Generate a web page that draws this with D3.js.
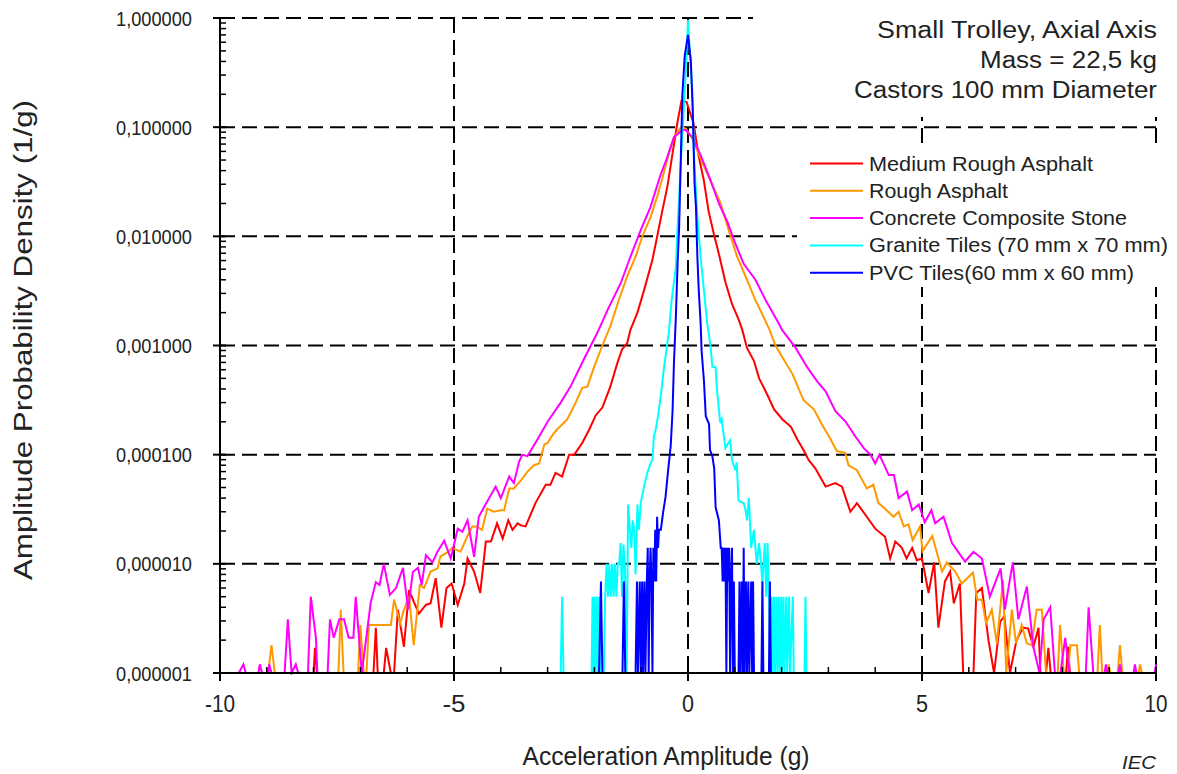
<!DOCTYPE html>
<html><head><meta charset="utf-8">
<script src="https://cdn.jsdelivr.net/npm/d3@7"></script>
<style>body{margin:0;background:#fff}svg{display:block}</style>
</head><body>
<svg id="c" width="1177" height="774"></svg>
<script>
// ---------------- DATA ----------------
const xTickValues = [-10, -5, 0, 5, 10];
const xTickLabels = ["-10", "-5", "0", "5", "10"];
const yTickValues = [1e-6, 1e-5, 1e-4, 1e-3, 1e-2, 1e-1, 1];
const yTickLabels = ["0,000001", "0,000010", "0,000100", "0,001000", "0,010000", "0,100000", "1,000000"];
const seriesNames = ["Medium Rough  Asphalt", "Rough Asphalt", "Concrete Composite Stone", "Granite Tiles (70 mm x 70 mm)", "PVC Tiles(60 mm x 60 mm)"];
const seriesColors = ["#FF0000", "#FF9900", "#FF00FF", "#00FFFF", "#0000FF"];
const titleLines = ["Small Trolley, Axial Axis", "Mass = 22,5 kg", "Castors 100 mm Diameter"];

// [acceleration (g), density (1/g)]  (0 = empty bin)
const mediumRoughAsphalt = [[-8.2,0],[-8.0,0],[-7.97,1.7e-6],[-7.93,0],[-6.72,0],[-6.67,2.6e-6],[-6.63,0],[-6.5,0],[-6.45,1.7e-6],[-6.35,0],
[-6.28,0],[-6.2,3.8e-6],[-6.07,1.74e-6],[-5.96,5.75e-6],[-5.86,4.5e-6],[-5.75,3.5e-6],[-5.6,4.2e-6],[-5.5,4.35e-6],[-5.39,7.4e-6],[-5.27,2.6e-6],
[-5.16,6.0e-6],[-5.05,6.6e-6],[-4.92,4.2e-6],[-4.78,6.6e-6],[-4.71,1.12e-5],[-4.57,8.5e-6],[-4.44,5.4e-6],[-4.32,1.6e-5],[-4.21,1.6e-5],[-4.08,2.35e-5],
[-3.96,1.7e-5],[-3.84,2.5e-5],[-3.75,2.05e-5],[-3.64,2.35e-5],[-3.57,2.25e-5],[-3.47,2.2e-5],[-3.26,3.6e-5],[-3.04,5.3e-5],[-2.94,5.3e-5],[-2.83,6.8e-5],
[-2.69,6.3e-5],[-2.54,1.0e-4],[-2.43,1.0e-4],[-2.26,1.28e-4],[-2.11,1.7e-4],[-1.97,2.3e-4],[-1.83,2.7e-4],[-1.66,4.2e-4],[-1.51,6.9e-4],[-1.41,9.2e-4],
[-1.3,1.05e-3],[-1.23,1.39e-3],[-1.08,2.0e-3],[-0.94,3.2e-3],[-0.76,6.1e-3],[-0.66,9.9e-3],[-0.55,0.017],[-0.44,0.0287],[-0.34,0.054],[-0.23,0.108],
[-0.14,0.174],[-0.03,0.17],[0.12,0.108],[0.23,0.054],[0.34,0.0323],[0.44,0.017],[0.55,0.0106],[0.66,0.0069],[0.8,0.0038],[0.94,0.0024],
[1.09,0.0017],[1.16,1.39e-3],[1.26,9.5e-4],[1.41,7.2e-4],[1.52,5.0e-4],[1.7,3.5e-4],[1.84,2.6e-4],[2.02,2.1e-4],[2.2,1.8e-4],[2.34,1.37e-4],
[2.48,1.08e-4],[2.58,8.9e-5],[2.72,7.5e-5],[2.94,5.1e-5],[3.15,5.5e-5],[3.29,5.1e-5],[3.47,3.0e-5],[3.61,3.6e-5],[3.82,2.7e-5],[4.0,2.1e-5],
[4.21,1.77e-5],[4.32,1.12e-5],[4.43,1.6e-5],[4.57,1.4e-5],[4.67,1.12e-5],[4.79,1.4e-5],[4.89,1.08e-5],[5.0,1.12e-5],[5.14,5.4e-6],[5.26,1.03e-5],
[5.35,2.6e-6],[5.49,6.9e-6],[5.6,8.5e-6],[5.68,4.35e-6],[5.81,6.6e-6],[5.88,0],[6.1,0],[6.16,5.4e-6],[6.28,6.0e-6],[6.42,2.0e-6],
[6.54,0],[6.67,2.95e-6],[6.76,3.3e-6],[6.88,0],[7.02,2.0e-6],[7.16,2.6e-6],[7.27,2.55e-6],[7.38,1.74e-6],[7.49,2.6e-6],[7.53,0],
[7.65,0],[7.7,1.7e-6],[7.75,0],[8.08,0],[8.12,1.74e-6],[8.16,0]];

const roughAsphalt = [[-8.97,0],[-8.9,1.8e-6],[-8.83,0],[-7.47,0],[-7.42,3.8e-6],[-7.36,0],[-7.05,0],[-7.0,2.75e-6],[-6.93,0],[-6.87,0],
[-6.82,2.75e-6],[-6.35,2.75e-6],[-6.28,4.7e-6],[-6.15,2.85e-6],[-6.07,3.8e-6],[-5.96,5.0e-6],[-5.86,1.8e-6],[-5.73,6.4e-6],[-5.64,6.0e-6],[-5.5,8.5e-6],
[-5.35,9.1e-6],[-5.29,1.17e-5],[-5.11,1.3e-5],[-5.04,1.4e-5],[-4.86,1.29e-5],[-4.72,1.77e-5],[-4.61,2.2e-5],[-4.51,2.2e-5],[-4.4,2.05e-5],[-4.29,3.2e-5],
[-4.15,3.0e-5],[-4.0,3.1e-5],[-3.93,3.1e-5],[-3.82,4.9e-5],[-3.72,4.9e-5],[-3.57,5.8e-5],[-3.43,7.0e-5],[-3.29,8.0e-5],[-3.18,8.3e-5],[-3.07,1.24e-4],
[-3.0,1.28e-4],[-2.9,1.5e-4],[-2.8,1.7e-4],[-2.58,2.1e-4],[-2.4,3.0e-4],[-2.26,4.1e-4],[-2.15,4.2e-4],[-2.01,6.3e-4],[-1.83,1.0e-3],[-1.66,1.5e-3],
[-1.48,2.6e-3],[-1.3,4.3e-3],[-1.12,6.5e-3],[-0.98,9.9e-3],[-0.8,0.015],[-0.66,0.023],[-0.52,0.0377],[-0.41,0.057],[-0.3,0.081],[-0.15,0.1],
[-0.05,0.097],[0.09,0.079],[0.3,0.048],[0.48,0.0323],[0.69,0.0205],[0.87,0.0114],[1.05,0.0065],[1.23,0.0043],[1.44,0.0026],[1.65,0.0017],
[1.74,1.4e-3],[1.87,1.0e-3],[2.01,7.9e-4],[2.23,5.5e-4],[2.47,3.15e-4],[2.69,2.6e-4],[2.86,1.9e-4],[3.04,1.4e-4],[3.18,1.08e-4],[3.36,1.04e-4],
[3.43,8.0e-5],[3.61,7.2e-5],[3.82,4.9e-5],[3.96,5.3e-5],[4.07,3.6e-5],[4.21,3.2e-5],[4.39,2.7e-5],[4.5,3.0e-5],[4.61,2.2e-5],[4.71,2.3e-5],
[4.8,1.65e-5],[4.96,2.2e-5],[5.01,1.3e-5],[5.22,1.8e-5],[5.43,8.5e-6],[5.53,1.03e-5],[5.71,8.5e-6],[5.85,6.6e-6],[6.09,8.3e-6],[6.18,4.7e-6],
[6.28,4.7e-6],[6.37,2.85e-6],[6.49,3.8e-6],[6.6,1.87e-6],[6.73,7.1e-6],[6.8,0],[6.92,3.8e-6],[7.01,1.87e-6],[7.13,2.75e-6],[7.24,1.87e-6],
[7.34,1.8e-6],[7.45,3.8e-6],[7.56,3.8e-6],[7.65,0],[7.9,0],[7.95,2.75e-6],[8.03,0],[8.12,0],[8.17,1.8e-6],[8.31,1.8e-6],
[8.36,0],[8.75,0],[8.8,2.75e-6],[8.85,0],[8.96,0],[8.99,1.2e-6],[9.02,0],[9.18,0],[9.23,1.8e-6],[9.28,0],
[9.63,0],[9.66,1.2e-6],[9.7,0]];

const concreteCompositeStone = [[-9.6,0],[-9.5,1.2e-6],[-9.45,0],[-9.18,0],[-9.15,1.2e-6],[-9.1,0],[-8.97,0],[-8.95,1.2e-6],[-8.9,0],[-8.62,0],
[-8.55,3.1e-6],[-8.47,0],[-8.38,1.2e-6],[-8.33,0],[-8.12,0],[-8.06,5.0e-6],[-7.95,2.1e-6],[-7.92,0],[-7.7,0],[-7.65,3.1e-6],
[-7.57,2.1e-6],[-7.45,3.1e-6],[-7.35,3.1e-6],[-7.25,2.1e-6],[-7.15,2.1e-6],[-7.1,5.0e-6],[-6.97,0],[-6.78,4.4e-6],[-6.67,6.8e-6],[-6.59,6.4e-6],
[-6.5,1.0e-5],[-6.37,5.2e-6],[-6.24,6.0e-6],[-6.09,9.2e-6],[-5.98,3.8e-6],[-5.88,8.4e-6],[-5.77,9.2e-6],[-5.69,6.4e-6],[-5.6,1.2e-5],[-5.46,1.03e-5],
[-5.35,1.3e-5],[-5.21,1.63e-5],[-5.07,1.12e-5],[-4.92,2.1e-5],[-4.82,1.97e-5],[-4.71,2.5e-5],[-4.57,1.16e-5],[-4.47,2.7e-5],[-4.36,3.3e-5],[-4.11,5.1e-5],
[-4.0,4.0e-5],[-3.82,6.3e-5],[-3.72,5.5e-5],[-3.61,8.6e-5],[-3.54,1.0e-4],[-3.43,9.7e-5],[-3.22,1.37e-4],[-3.0,2.0e-4],[-2.72,3.0e-4],[-2.51,4.2e-4],
[-2.23,7.4e-4],[-1.94,1.3e-3],[-1.69,2.25e-3],[-1.44,3.7e-3],[-1.23,6.5e-3],[-1.01,0.0114],[-0.8,0.0186],[-0.59,0.0363],[-0.44,0.0535],[-0.3,0.081],
[-0.12,0.094],[-0.05,0.094],[0.09,0.081],[0.27,0.0554],[0.48,0.0327],[0.66,0.02],[0.84,0.0136],[1.01,0.0086],[1.19,0.0056],[1.44,0.004],
[1.66,0.0026],[1.94,0.00159],[2.01,1.39e-3],[2.3,9.5e-4],[2.55,6.3e-4],[2.76,4.7e-4],[2.94,3.8e-4],[3.15,2.5e-4],[3.37,2.0e-4],[3.58,1.46e-4],
[3.76,1.14e-4],[3.9,1.0e-4],[4.0,8.3e-5],[4.09,1.0e-4],[4.29,6.5e-5],[4.4,6.5e-5],[4.5,4.0e-5],[4.68,4.6e-5],[4.79,3.1e-5],[4.93,3.5e-5],
[5.06,2.4e-5],[5.2,3.1e-5],[5.28,2.35e-5],[5.46,2.7e-5],[5.64,1.55e-5],[5.92,1.05e-5],[6.1,1.29e-5],[6.28,1.12e-5],[6.45,5.0e-6],[6.68,9.1e-6],
[6.77,3.8e-6],[6.94,1.03e-5],[7.06,3.1e-6],[7.24,6.2e-6],[7.38,1.74e-6],[7.51,0],[7.6,3.1e-6],[7.74,4.0e-6],[7.84,0],[7.96,0],
[8.06,2.1e-6],[8.15,0],[8.5,0],[8.56,4.0e-6],[8.66,0],[8.9,0],[8.93,1.2e-6],[8.96,0],[9.2,0],[9.23,1.2e-6],
[9.26,0],[9.52,0],[9.55,1.2e-6],[9.58,0],[9.97,0],[10.0,1.2e-6]];

const graniteTiles = [[-2.72,0],[-2.69,5.0e-6],[-2.66,0],[-2.06,0],[-2.04,5.0e-6],[-2.02,0],[-2.0,5.0e-6],[-1.98,0],[-1.95,5.0e-6],[-1.93,0],
[-1.9,5.0e-6],[-1.88,0],[-1.8,0],[-1.77,5.0e-6],[-1.74,1.0e-5],[-1.71,5.0e-6],[-1.68,1.0e-5],[-1.65,5.0e-6],[-1.62,1.0e-5],[-1.59,5.0e-6],
[-1.56,1.0e-5],[-1.53,5.0e-6],[-1.5,1.0e-5],[-1.47,1.0e-5],[-1.44,1.55e-5],[-1.41,5.0e-6],[-1.38,1.5e-5],[-1.35,1.0e-5],[-1.31,0],[-1.28,3.5e-5],
[-1.24,2.05e-5],[-1.21,1.4e-5],[-1.18,2.5e-5],[-1.15,2.05e-5],[-1.12,8.0e-6],[-1.08,3.5e-5],[-1.05,2.05e-5],[-1.01,3.6e-5],[-0.94,5.1e-5],[-0.87,6.8e-5],
[-0.8,8.3e-5],[-0.76,8.9e-5],[-0.73,1.46e-4],[-0.69,1.7e-4],[-0.64,2.25e-4],[-0.58,3.5e-4],[-0.51,6.4e-4],[-0.44,1.06e-3],[-0.41,1.3e-3],[-0.35,2.6e-3],
[-0.26,5.2e-3],[-0.23,0.0106],[-0.12,0.088],[-0.05,0.3],[0,0.96],[0.05,0.4],[0.09,0.22],[0.13,0.054],[0.2,0.015],[0.27,0.0065],
[0.34,0.0032],[0.41,0.0016],[0.48,1.0e-3],[0.52,6.4e-4],[0.59,6.3e-4],[0.62,3.9e-4],[0.69,1.95e-4],[0.72,2.1e-4],[0.8,1.15e-4],[0.87,1.3e-4],
[0.9,1.35e-4],[0.94,8.9e-5],[1.01,7.2e-5],[1.04,8.5e-5],[1.08,3.8e-5],[1.12,3.7e-5],[1.19,3.6e-5],[1.23,3.1e-5],[1.26,2.5e-5],[1.3,4.0e-5],
[1.35,1.4e-5],[1.41,2.05e-5],[1.47,1.0e-5],[1.52,1.55e-5],[1.56,1.0e-5],[1.59,6.7e-6],[1.64,1.55e-5],[1.67,5.0e-6],[1.7,1.55e-5],[1.73,5.0e-6],
[1.76,0],[1.79,5.0e-6],[1.81,0],[1.84,5.0e-6],[1.86,0],[1.89,5.0e-6],[1.91,0],[1.94,5.0e-6],[1.96,0],[1.99,5.0e-6],
[2.01,0],[2.04,5.0e-6],[2.06,0],[2.1,5.0e-6],[2.12,0],[2.16,5.0e-6],[2.18,0],[2.24,5.0e-6],[2.26,0],[2.49,0],
[2.51,5.0e-6],[2.53,0]];

const pvcTiles = [[-1.9,0],[-1.86,6.9e-6],[-1.83,0],[-1.4,0],[-1.37,6.9e-6],[-1.34,0],[-1.12,0],[-1.09,6.9e-6],[-1.07,0],[-1.03,6.9e-6],
[-1.01,0],[-0.98,6.9e-6],[-0.96,0],[-0.93,6.9e-6],[-0.91,0],[-0.88,6.9e-6],[-0.86,1.4e-5],[-0.84,0],[-0.82,6.9e-6],[-0.8,1.4e-5],
[-0.78,6.9e-6],[-0.76,0],[-0.74,1.4e-5],[-0.72,6.9e-6],[-0.7,2.05e-5],[-0.68,6.9e-6],[-0.66,2.7e-5],[-0.64,1.4e-5],[-0.62,2.05e-5],[-0.58,2.05e-5],
[-0.53,3.0e-5],[-0.48,4.1e-5],[-0.43,6.8e-5],[-0.37,1.2e-4],[-0.33,2.5e-4],[-0.3,7.0e-4],[-0.26,1.8e-3],[-0.22,6.0e-3],[-0.19,0.012],[-0.16,0.04],
[-0.12,0.2],[-0.07,0.45],[0,0.7],[0.06,0.41],[0.1,0.15],[0.14,0.03],[0.17,0.0187],[0.2,0.0065],[0.23,0.0032],[0.27,1.6e-3],
[0.29,9.0e-4],[0.34,4.8e-4],[0.38,2.25e-4],[0.45,1.9e-4],[0.47,1.1e-4],[0.52,9.7e-5],[0.56,7.5e-5],[0.59,3.3e-5],[0.66,2.5e-5],[0.7,1.4e-5],
[0.72,1.4e-5],[0.74,6.9e-6],[0.76,1.4e-5],[0.78,6.9e-6],[0.8,1.4e-5],[0.82,0],[0.84,1.4e-5],[0.86,6.9e-6],[0.88,1.4e-5],[0.9,0],
[0.92,6.9e-6],[0.94,1.4e-5],[0.96,0],[0.98,6.9e-6],[1.0,0],[1.08,0],[1.1,6.9e-6],[1.12,0],[1.15,6.9e-6],[1.17,0],
[1.19,1.4e-5],[1.21,0],[1.24,6.9e-6],[1.26,0],[1.29,6.9e-6],[1.31,0],[1.35,6.9e-6],[1.37,0],[1.39,6.9e-6],[1.41,0],
[1.57,0],[1.59,6.9e-6],[1.61,0],[1.73,0],[1.75,6.9e-6],[1.77,0]];

const seriesData = [mediumRoughAsphalt, roughAsphalt, concreteCompositeStone, graniteTiles, pvcTiles];

// ---------------- CHART ----------------
const svg = d3.select("#c");
const FONT = '"Liberation Sans", Arial, sans-serif';
const NARROW = '"Liberation Sans Narrow", "Arial Narrow", "Liberation Sans", Arial, sans-serif';
const TXT = "#222";

const x = d3.scaleLinear().domain([-10, 10]).range([220, 1156]);
const y = d3.scaleLog().domain([1e-6, 1]).range([673, 18]).clamp(true);
const yv = v => y(v > 1e-6 ? v : 1e-6);

svg.append("rect").attr("width", 1177).attr("height", 774).attr("fill", "#fff");

// grid
const grid = svg.append("g").attr("stroke", "#000").attr("stroke-width", 2).attr("stroke-dasharray", "15,7").attr("fill", "none");
grid.selectAll("line.h").data(yTickValues.slice(1)).join("line")
  .attr("x1", x(-10)).attr("x2", x(10)).attr("y1", d => y(d)).attr("y2", d => y(d));
grid.selectAll("line.v").data(xTickValues.slice(1)).join("line")
  .attr("y1", y(1)).attr("y2", y(1e-6)).attr("x1", d => x(d)).attr("x2", d => x(d));

// white boxes for title and legend (hide grid behind them)
svg.append("rect").attr("x", 753).attr("y", 0).attr("width", 424).attr("height", 117).attr("fill", "#fff");
svg.append("rect").attr("x", 797).attr("y", 143).attr("width", 380).attr("height", 144).attr("fill", "#fff");

// data lines
svg.append("clipPath").attr("id", "clip").append("rect").attr("x", 220).attr("y", 0).attr("width", 957).attr("height", 675);
const line = d3.line().x(d => x(d[0])).y(d => yv(d[1]));
const lines = svg.append("g").attr("clip-path", "url(#clip)");
seriesData.forEach((s, i) => {
  lines.append("path").datum(s).attr("d", line).attr("fill", "none")
    .attr("stroke", seriesColors[i]).attr("stroke-width", 2).attr("stroke-linejoin", "miter");
});

// axes
const ax = svg.append("g").attr("stroke", "#000").attr("stroke-width", 2);
ax.append("line").attr("x1", x(-10)).attr("x2", x(-10)).attr("y1", y(1) - 1).attr("y2", y(1e-6) + 1);
ax.append("line").attr("x1", x(-10) - 1).attr("x2", x(10) + 1).attr("y1", y(1e-6)).attr("y2", y(1e-6));
ax.selectAll("line.ym").data(yTickValues).join("line")
  .attr("x1", x(-10) - 7).attr("x2", x(-10) + 6).attr("y1", d => y(d)).attr("y2", d => y(d));
const minorY = [];
yTickValues.slice(0, -1).forEach(d => { for (let k = 2; k <= 9; k++) minorY.push(d * k); });
ax.selectAll("line.yn").data(minorY).join("line").attr("stroke-width", 1.5)
  .attr("x1", x(-10)).attr("x2", x(-10) + 6).attr("y1", d => y(d)).attr("y2", d => y(d));
ax.selectAll("line.xm").data(xTickValues).join("line")
  .attr("x1", d => x(d)).attr("x2", d => x(d)).attr("y1", y(1e-6) - 6).attr("y2", y(1e-6) + 8);
const minorX = d3.range(-9, 10).filter(d => d % 5 !== 0);
ax.selectAll("line.xn").data(minorX).join("line").attr("stroke-width", 1.5)
  .attr("x1", d => x(d)).attr("x2", d => x(d)).attr("y1", y(1e-6) - 6).attr("y2", y(1e-6));

// tick labels
svg.append("g").selectAll("text").data(yTickValues).join("text")
  .attr("x", 192).attr("y", d => y(d)).attr("dy", "0.36em").attr("text-anchor", "end")
  .attr("font-family", FONT).attr("font-size", 21).attr("fill", TXT)
  .attr("textLength", 76).attr("lengthAdjust", "spacingAndGlyphs")
  .text((d, i) => yTickLabels[i]);
const xLabW = [30, 23, 12, 12, 23];
svg.append("g").selectAll("text").data(xTickValues).join("text")
  .attr("x", d => x(d)).attr("y", 712).attr("text-anchor", "middle")
  .attr("font-family", NARROW).attr("font-size", 23).attr("fill", TXT)
  .attr("textLength", (d, i) => xLabW[i]).attr("lengthAdjust", "spacingAndGlyphs")
  .text((d, i) => xTickLabels[i]);

// axis titles
svg.append("text").attr("x", 666).attr("y", 765).attr("text-anchor", "middle")
  .attr("font-family", NARROW).attr("font-size", 25).attr("fill", TXT)
  .attr("textLength", 287).attr("lengthAdjust", "spacingAndGlyphs")
  .text("Acceleration Amplitude  (g)");
svg.append("text").attr("transform", "translate(32,340) rotate(-90)").attr("text-anchor", "middle")
  .attr("font-family", NARROW).attr("font-size", 25).attr("fill", TXT)
  .attr("textLength", 480).attr("lengthAdjust", "spacingAndGlyphs")
  .text("Amplitude Probability Density  (1/g)");
svg.append("text").attr("x", 1156).attr("y", 769).attr("text-anchor", "end")
  .attr("font-family", NARROW).attr("font-size", 19).attr("font-style", "italic").attr("fill", TXT)
  .attr("textLength", 34).attr("lengthAdjust", "spacingAndGlyphs")
  .text("IEC");

// title block
const titleW = [280, 177, 303];
svg.append("g").selectAll("text").data(titleLines).join("text")
  .attr("x", 1157).attr("y", (d, i) => 38 + i * 30).attr("text-anchor", "end")
  .attr("font-family", FONT).attr("font-size", 23).attr("fill", TXT)
  .attr("textLength", (d, i) => titleW[i]).attr("lengthAdjust", "spacingAndGlyphs")
  .text(d => d);

// legend
const legW = [224, 139, 258, 299, 265];
const leg = svg.append("g");
seriesNames.forEach((n, i) => {
  const ly = 163.5 + i * 27.3;
  leg.append("line").attr("x1", 810).attr("x2", 863).attr("y1", ly).attr("y2", ly)
    .attr("stroke", seriesColors[i]).attr("stroke-width", 2);
  leg.append("text").attr("x", 869).attr("y", ly + 7).attr("font-family", FONT).attr("font-size", 20)
    .attr("fill", TXT).attr("textLength", legW[i]).attr("lengthAdjust", "spacingAndGlyphs").text(n);
});
</script>
</body></html>
